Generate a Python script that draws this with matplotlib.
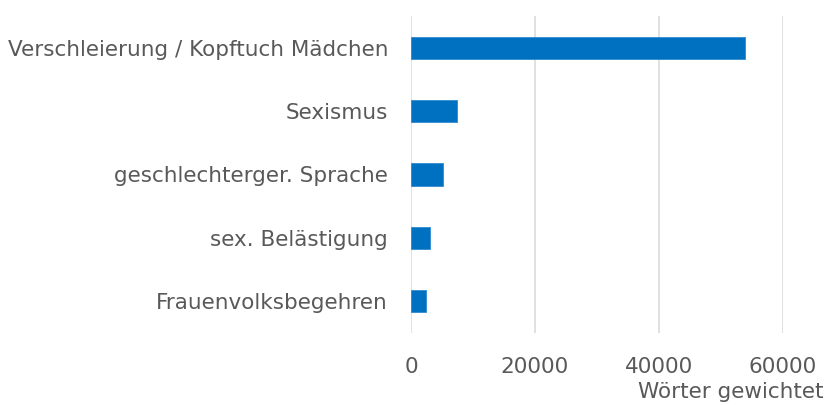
import matplotlib
matplotlib.use("Agg")
import matplotlib.pyplot as plt

categories = ["Verschleierung / Kopftuch Mädchen", "Sexismus", "geschlechterger. Sprache",
              "sex. Belästigung", "Frauenvolksbegehren"]
values = [53800, 7370, 5110, 3010, 2370]
xticks = [0, 20000, 40000, 60000]

plt.rcParams['font.family'] = ['DejaVu Sans']
fig = plt.figure(figsize=(8.24, 4.05), dpi=100)
ax = fig.add_axes([411/824, 1-333/405, (783-411)/824, (333-16)/405])

y = list(range(len(categories)))[::-1]
ax.barh(y, values, height=0.35, color="#0070C0", edgecolor="#2E8AD0", linewidth=0.6, zorder=3)
ax.set_yticks(y)
ax.set_yticklabels(categories)
ax.set_ylim(-0.5, len(categories) - 0.5)
ax.set_xlim(0, 60000)
ax.set_xticks(xticks)
ax.set_xticklabels([str(t) for t in xticks])
ax.grid(axis="x", color="#D9D9D9", linewidth=1.1, zorder=0)
for s in ax.spines.values():
    s.set_visible(False)
ax.tick_params(axis="both", length=0, labelsize=15.5, colors="#595959")
ax.tick_params(axis="y", pad=16.5)
ax.tick_params(axis="x", pad=17)
fig.text(823/824, 1-392/405, "Wörter gewichtet", ha="right", va="center", fontsize=15.5, color="#595959")
fig.savefig("out.png", dpi=100)
